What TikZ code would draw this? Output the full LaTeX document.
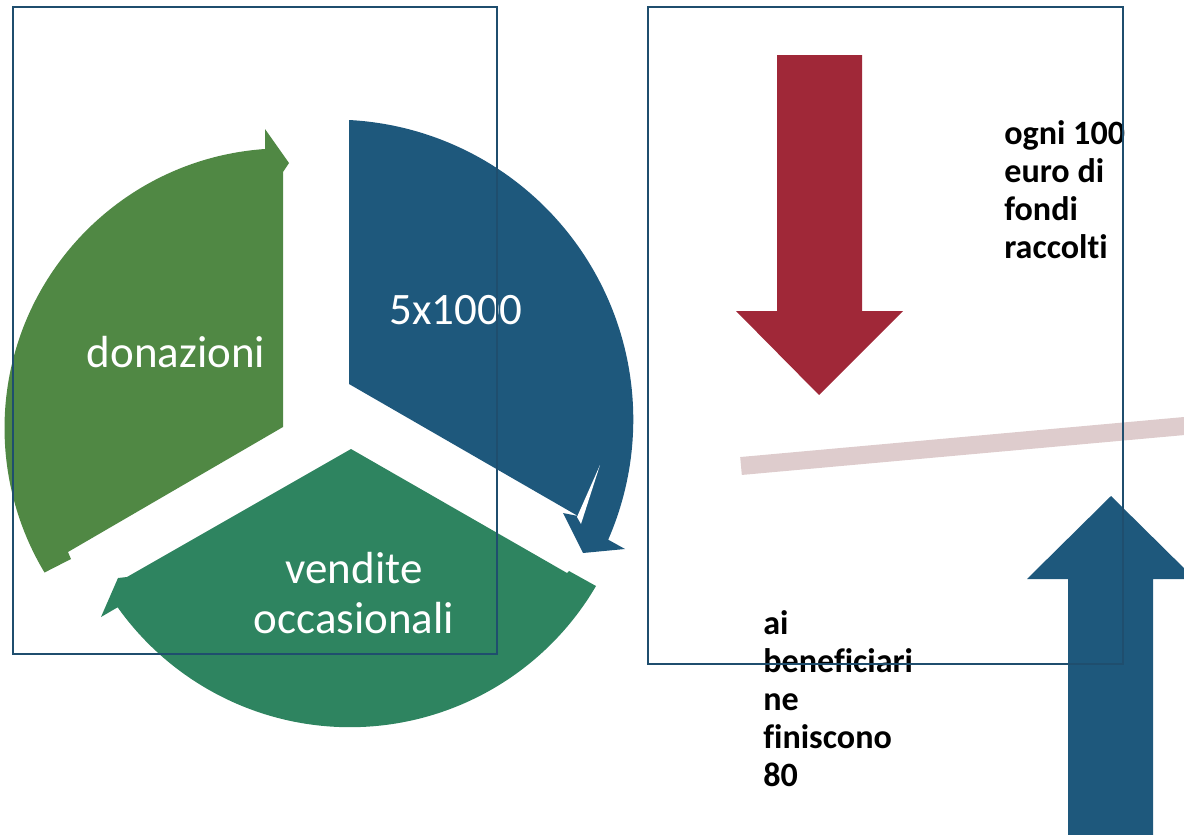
\documentclass[tikz,border=0pt]{standalone}
\usepackage{fontspec}
\setmainfont{Carlito}[RawFeature = {-liga;-clig}]

\definecolor{piegreen}{RGB}{80,136,68}
\definecolor{pieblue}{RGB}{30,88,124}
\definecolor{pieteal}{RGB}{46,132,96}
\definecolor{arrowred}{RGB}{160,40,56}
\definecolor{barpink}{RGB}{222,204,205}
\definecolor{framecol}{RGB}{31,78,110}

\tikzset{
	frame/.style = {draw = framecol, line width = 0.6pt},
	pielabel/.style = {text = white, align = center, font = \fontsize{25.6}{28.5}\selectfont},
	note/.style = {anchor = north west, inner sep = 0pt, align = left, font = \fontsize{19.4}{21.6}\selectfont\bfseries}
}

\begin{document}
\begin{tikzpicture}[x = 0.02cm, y = -0.02cm]

	\useasboundingbox (0, 0) rectangle (1184, 835);
	\clip (0, 0) rectangle (1184, 835);

	\fill [piegreen] (283, 427) -- (283, 172) -- (289, 163) -- (265, 129) -- (265, 149)
		arc [start angle = 266, end angle = 149, radius = 280] -- (71, 559) -- (68, 552) -- cycle;
	\fill [pieblue] (349, 384) -- (349, 120)
		arc [start angle = -87, end angle = 23.6, radius = 300] -- (625, 549) -- (583, 553) -- (563, 513) -- (578, 516) -- cycle;
	\fill [white] (577, 517) -- (600, 465) -- (581, 524) -- cycle;
	\fill [pieteal] (351, 449) -- (567, 573) -- (569, 571) -- (596, 586)
		arc [start angle = 30.3, end angle = 144.6, radius = 285] -- (101, 617) -- (118, 578) -- (127, 577) -- cycle;

	\node [pielabel] (donazioni) at (176, 352) {donazioni};
	\node [pielabel] (cinque) at (456, 310) {5x1000};
	\node [pielabel] (vendite) at (354, 593) {vendite\\occasionali};

	\fill [arrowred] (777, 55) -- (862, 55) -- (862, 311) -- (903, 311) -- (819, 395) -- (736, 311) -- (777, 311) -- cycle;
	\draw [barpink, line width = 0.36cm] (741, 466) -- (1200, 424.6);
	\fill [pieblue] (1068, 835) -- (1068, 579) -- (1027, 579) -- (1111, 496) -- (1195, 579) -- (1153, 579) -- (1153, 835) -- cycle;

	\node [note] (raccolti) at (1004, 120) {ogni 100\\euro di\\fondi\\raccolti};
	\node [note] (beneficiari) at (763, 610) {ai\\beneficiari\\ne\\finiscono\\80};

	\draw [frame] (13, 7) rectangle (497, 654);
	\draw [frame] (648, 7) rectangle (1123, 664);

\end{tikzpicture}
\end{document}
